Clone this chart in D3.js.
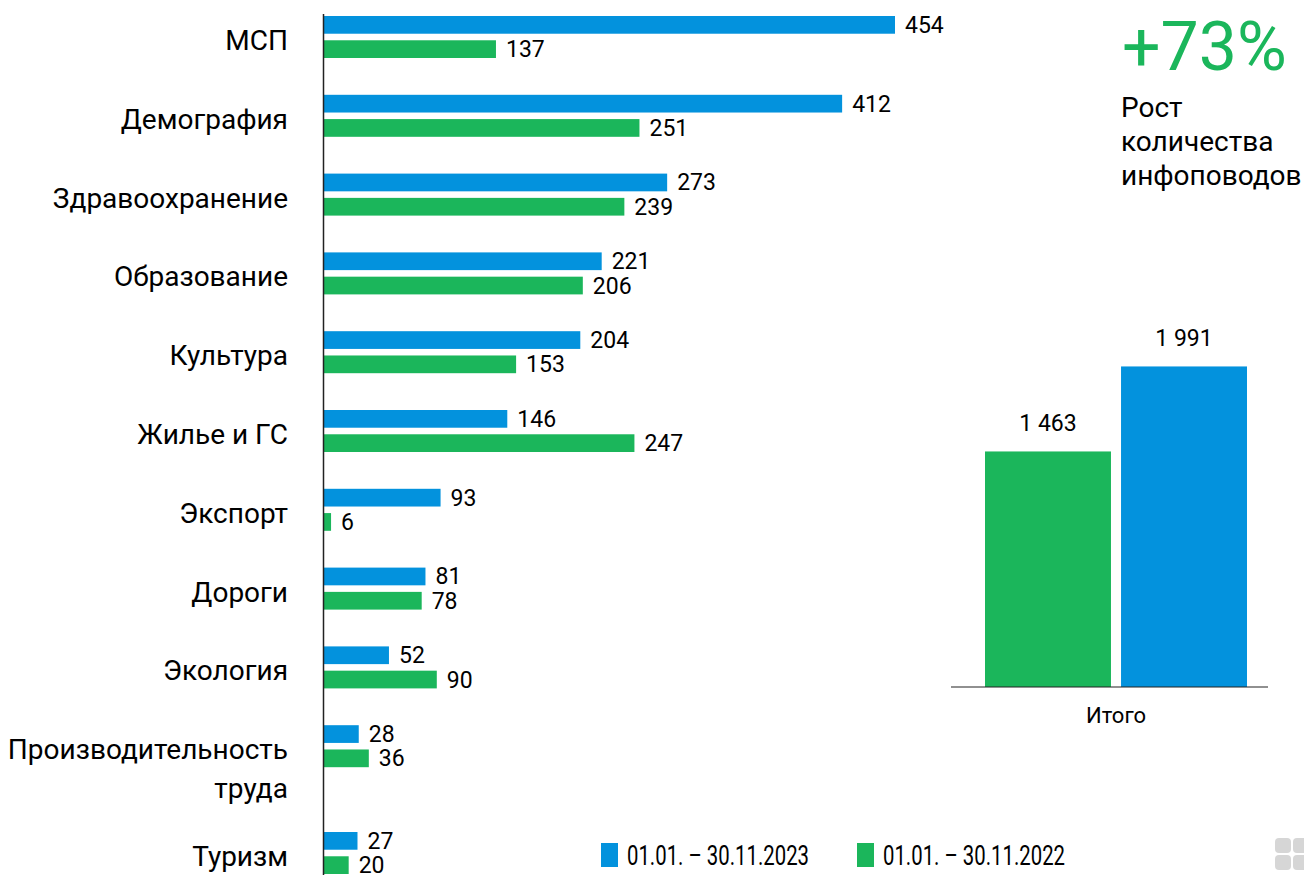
<!DOCTYPE html>
<html>

<head>
    <meta charset="utf-8">
    <title>Инфоповоды</title>
    <script src="https://cdnjs.cloudflare.com/ajax/libs/d3/7.8.5/d3.min.js"></script>
    <style>
        body { margin: 0; background: #fff; }
        text { font-family: Roboto, "Open Sans", sans-serif; fill: #000; }
    </style>
</head>

<body>
    <script>
        var W = 1304, H = 875;
        var blue = "#0392dd", green = "#1bb65b";

        var categories = ["МСП", "Демография", "Здравоохранение", "Образование", "Культура",
            "Жилье и ГС", "Экспорт", "Дороги", "Экология", "Производительность труда", "Туризм"];
        var values2023 = [454, 412, 273, 221, 204, 146, 93, 81, 52, 28, 27];
        var values2022 = [137, 251, 239, 206, 153, 247, 6, 78, 90, 36, 20];

        var totalKeys = ["2022", "2023"];
        var totalValues = [1463, 1991];
        var totalLabel = "Итого";
        var growthText = "+73%";
        var growthCaption = ["Рост", "количества", "инфоповодов"];
        var legendLabels = ["01.01. – 30.11.2023", "01.01. – 30.11.2022"];

        var fmt = function(v) { return d3.format(",")(v).replace(/,/g, " "); };

        var svg = d3.select("body")
            .append("svg")
            .attr("width", W)
            .attr("height", H);

        // --- left chart: horizontal grouped bars
        var x0 = 323.5;
        var x = d3.scaleLinear().domain([0, 454]).range([x0, 895]);

        var y = d3.scaleBand()
            .domain(categories)
            .range([16, 846])
            .paddingInner(0.467)
            .paddingOuter(0);

        var ySub = d3.scaleBand()
            .domain(["2023", "2022"])
            .range([0, y.bandwidth()])
            .paddingInner(0.27);

        // long labels wrap onto two lines and push the following groups down
        function lines(c) {
            if (c.length <= 18) return [c];
            var i = c.lastIndexOf(" ");
            return [c.slice(0, i), c.slice(i + 1)];
        }
        function yPos(c) {
            var idx = categories.indexOf(c), extra = 0;
            for (var i = 0; i < idx; i++) if (lines(categories[i]).length > 1) extra += 28;
            return y(c) + extra;
        }

        var rows = categories.map(function(c, i) {
            return { cat: c, v23: values2023[i], v22: values2022[i] };
        });

        var g = svg.selectAll("g.row")
            .data(rows)
            .enter().append("g")
            .attr("class", "row")
            .attr("transform", function(d) { return "translate(0," + yPos(d.cat) + ")"; });

        [["2023", "v23", blue], ["2022", "v22", green]].forEach(function(s) {
            g.append("rect")
                .attr("x", x0)
                .attr("y", ySub(s[0]))
                .attr("width", function(d) { return x(d[s[1]]) - x0; })
                .attr("height", ySub.bandwidth())
                .attr("fill", s[2]);
            g.append("text")
                .attr("x", function(d) { return x(d[s[1]]) + 10; })
                .attr("y", ySub(s[0]) + ySub.bandwidth() / 2 + 8)
                .attr("font-size", 23)
                .text(function(d) { return d[s[1]]; });
        });

        g.each(function(d) {
            var ls = lines(d.cat);
            var t = d3.select(this).append("text")
                .attr("text-anchor", "end")
                .attr("font-size", 28)
                .attr("y", y.bandwidth() / 2 + 13);
            ls.forEach(function(l, i) {
                t.append("tspan").attr("x", 288).attr("dy", i ? 39 : 0).text(l);
            });
        });

        svg.append("line")
            .attr("x1", x0).attr("x2", x0)
            .attr("y1", 14).attr("y2", H)
            .attr("stroke", "#222").attr("stroke-width", 1.5);

        // --- right chart: totals
        var base = 687;
        var xt = d3.scaleBand().domain(totalKeys).range([985, 1247]).paddingInner(0.074);
        var yt = d3.scaleLinear().domain([0, 2000]).range([base, base - 322]);

        svg.selectAll("rect.total")
            .data(totalKeys)
            .enter().append("rect")
            .attr("class", "total")
            .attr("x", function(d) { return xt(d); })
            .attr("width", xt.bandwidth())
            .attr("y", function(d, i) { return yt(totalValues[i]); })
            .attr("height", function(d, i) { return base - yt(totalValues[i]); })
            .attr("fill", function(d) { return d === "2023" ? blue : green; });

        svg.selectAll("text.total")
            .data(totalKeys)
            .enter().append("text")
            .attr("class", "total")
            .attr("text-anchor", "middle")
            .attr("font-size", 23)
            .attr("x", function(d) { return xt(d) + xt.bandwidth() / 2; })
            .attr("y", function(d, i) { return yt(totalValues[i]) - 20; })
            .text(function(d, i) { return fmt(totalValues[i]); });

        svg.append("line")
            .attr("x1", 951).attr("x2", 1268)
            .attr("y1", base).attr("y2", base)
            .attr("stroke", "#222").attr("stroke-width", 1.2);

        svg.append("text")
            .attr("x", 1116).attr("y", 723)
            .attr("text-anchor", "middle")
            .attr("font-size", 22)
            .text(totalLabel);

        svg.append("text")
            .attr("x", 1122).attr("y", 70)
            .attr("font-size", 68)
            .style("fill", green)
            .text(growthText);

        svg.append("text")
            .attr("font-size", 28)
            .selectAll("tspan")
            .data(growthCaption)
            .enter().append("tspan")
            .attr("x", 1121)
            .attr("y", function(d, i) { return 117 + i * 34; })
            .text(function(d) { return d; });

        // --- legend
        var legend = svg.selectAll("g.legend")
            .data([[blue, legendLabels[0], 601], [green, legendLabels[1], 857]])
            .enter().append("g")
            .attr("class", "legend")
            .attr("transform", function(d) { return "translate(" + d[2] + ",843)"; });
        legend.append("rect")
            .attr("width", 17).attr("height", 24)
            .attr("fill", function(d) { return d[0]; });
        legend.append("text")
            .attr("x", 26).attr("y", 22)
            .attr("font-size", 27)
            .attr("textLength", 182)
            .attr("lengthAdjust", "spacingAndGlyphs")
            .text(function(d) { return d[1]; });

        // grey logo fragment in the corner
        [[1275, 838], [1293, 838], [1275, 855], [1293, 855]].forEach(function(p) {
            svg.append("rect")
                .attr("x", p[0]).attr("y", p[1])
                .attr("width", 16).attr("height", 15)
                .attr("rx", 4)
                .attr("fill", "#d6d6d6");
        });
    </script>
</body>

</html>
